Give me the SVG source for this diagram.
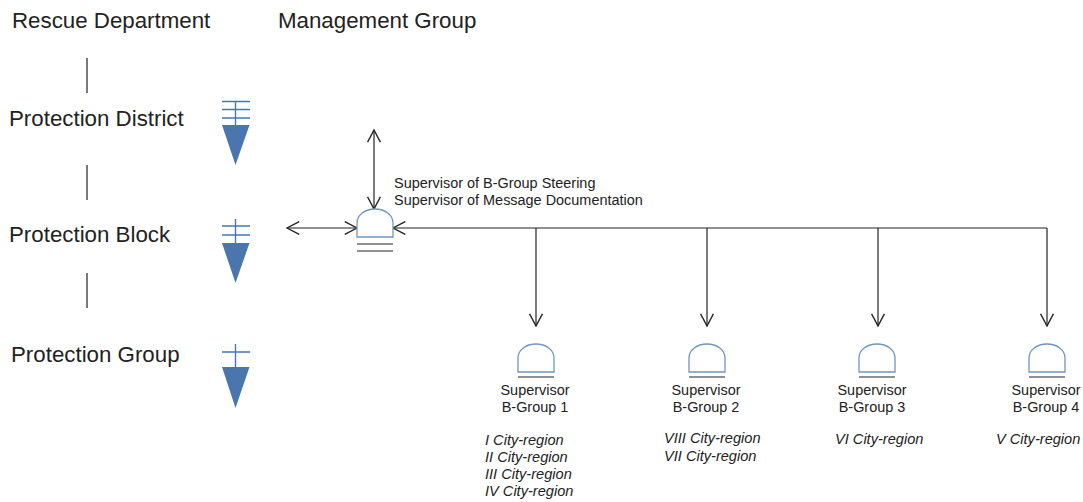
<svg xmlns="http://www.w3.org/2000/svg" width="1083" height="502" viewBox="0 0 1083 502">
<defs>
<marker id="open" markerUnits="userSpaceOnUse" markerWidth="14" markerHeight="14" refX="11" refY="6" orient="auto-start-reverse" viewBox="0 0 12 12"><path d="M0.5 0.500L11 6L0.500 11.500" fill="none" stroke="#262626" stroke-width="1.2"/></marker>
<path id="dome" d="M-18 0V-14C-18-22-10-28-0-28S18-22 18-14V0Z" fill="#fff" stroke="#7096c4" stroke-width="1.3"/>
</defs>
<style>
text{font-family:"Liberation Sans",Arial,sans-serif;fill:#222}
.h{font-size:22.300px}
.s{font-size:14.450px}
.c{font-size:14.450px;text-anchor:middle}
.i{font-size:14.600px;font-style:italic}
.b{stroke:#4a76ad;stroke-width:1.4;fill:none}
.t{fill:#4a76ad}
.k{stroke:#222;stroke-width:1.2;fill:none}
</style>
<rect width="1083" height="502" fill="#fff"/>
<g id="labels">
<text class="h" x="12" y="28">Rescue Department</text>
<text class="h" x="278" y="28">Management Group</text>
<text class="h" x="9" y="126">Protection District</text>
<text class="h" x="9" y="242">Protection Block</text>
<text class="h" x="11" y="362">Protection Group</text>
<path class="k" d="M87 58V93M87 165V200M87 273V308"/>
</g>
<g id="rank-district"><path class="b" d="M222 101.500H250M222 109.500H250M222 118H250M235.500 101V125"/><path class="t" d="M222 125H249.500L235.500 165Z"/></g>
<g id="rank-block"><path class="b" d="M222 226H250M222 235H250M235.500 219V243"/><path class="t" d="M222 243H249.500L235.500 283Z"/></g>
<g id="rank-group"><path class="b" d="M222 352H250M235.500 344V367"/><path class="t" d="M222 367H249.500L235.500 408Z"/></g>
<g id="connectors">
<line class="k" x1="374" y1="130" x2="374" y2="209" marker-start="url(#open)" marker-end="url(#open)"/>
<line class="k" x1="287" y1="228" x2="357" y2="228" marker-start="url(#open)" marker-end="url(#open)"/>
<line class="k" x1="1047" y1="228" x2="393" y2="228" marker-end="url(#open)"/>
<line class="k" x1="536" y1="228" x2="536" y2="326" marker-end="url(#open)"/>
<line class="k" x1="707" y1="228" x2="707" y2="326" marker-end="url(#open)"/>
<line class="k" x1="878" y1="228" x2="878" y2="326" marker-end="url(#open)"/>
<line class="k" x1="1047" y1="228" x2="1047" y2="326" marker-end="url(#open)"/>
</g>
<g id="management">
<use href="#dome" x="375" y="237"/>
<path class="k" d="M357 244H393M357 251H393"/>
<text class="s" x="394" y="188">Supervisor of B-Group Steering</text>
<text class="s" x="394" y="205">Supervisor of Message Documentation</text>
</g>
<g id="b-group-1"><use href="#dome" x="536" y="372"/><path class="k" d="M518 377H554"/>
<text class="c" x="535" y="395">Supervisor</text><text class="c" x="535" y="412">B-Group 1</text>
<text class="i" x="485" y="445">I City-region</text><text class="i" x="485" y="462">II City-region</text><text class="i" x="485" y="479">III City-region</text><text class="i" x="485" y="496">IV City-region</text></g>
<g id="b-group-2"><use href="#dome" x="707" y="372"/><path class="k" d="M689 377H725"/>
<text class="c" x="706" y="395">Supervisor</text><text class="c" x="706" y="412">B-Group 2</text>
<text class="i" x="664" y="443">VIII City-region</text><text class="i" x="664" y="461">VII City-region</text></g>
<g id="b-group-3"><use href="#dome" x="877" y="372"/><path class="k" d="M859 377H895"/>
<text class="c" x="872" y="395">Supervisor</text><text class="c" x="872" y="412">B-Group 3</text>
<text class="i" x="835" y="444">VI City-region</text></g>
<g id="b-group-4"><use href="#dome" x="1047" y="372"/><path class="k" d="M1029 377H1065"/>
<text class="c" x="1046" y="395">Supervisor</text><text class="c" x="1046" y="412">B-Group 4</text>
<text class="i" x="996" y="444">V City-region</text></g>
</svg>
